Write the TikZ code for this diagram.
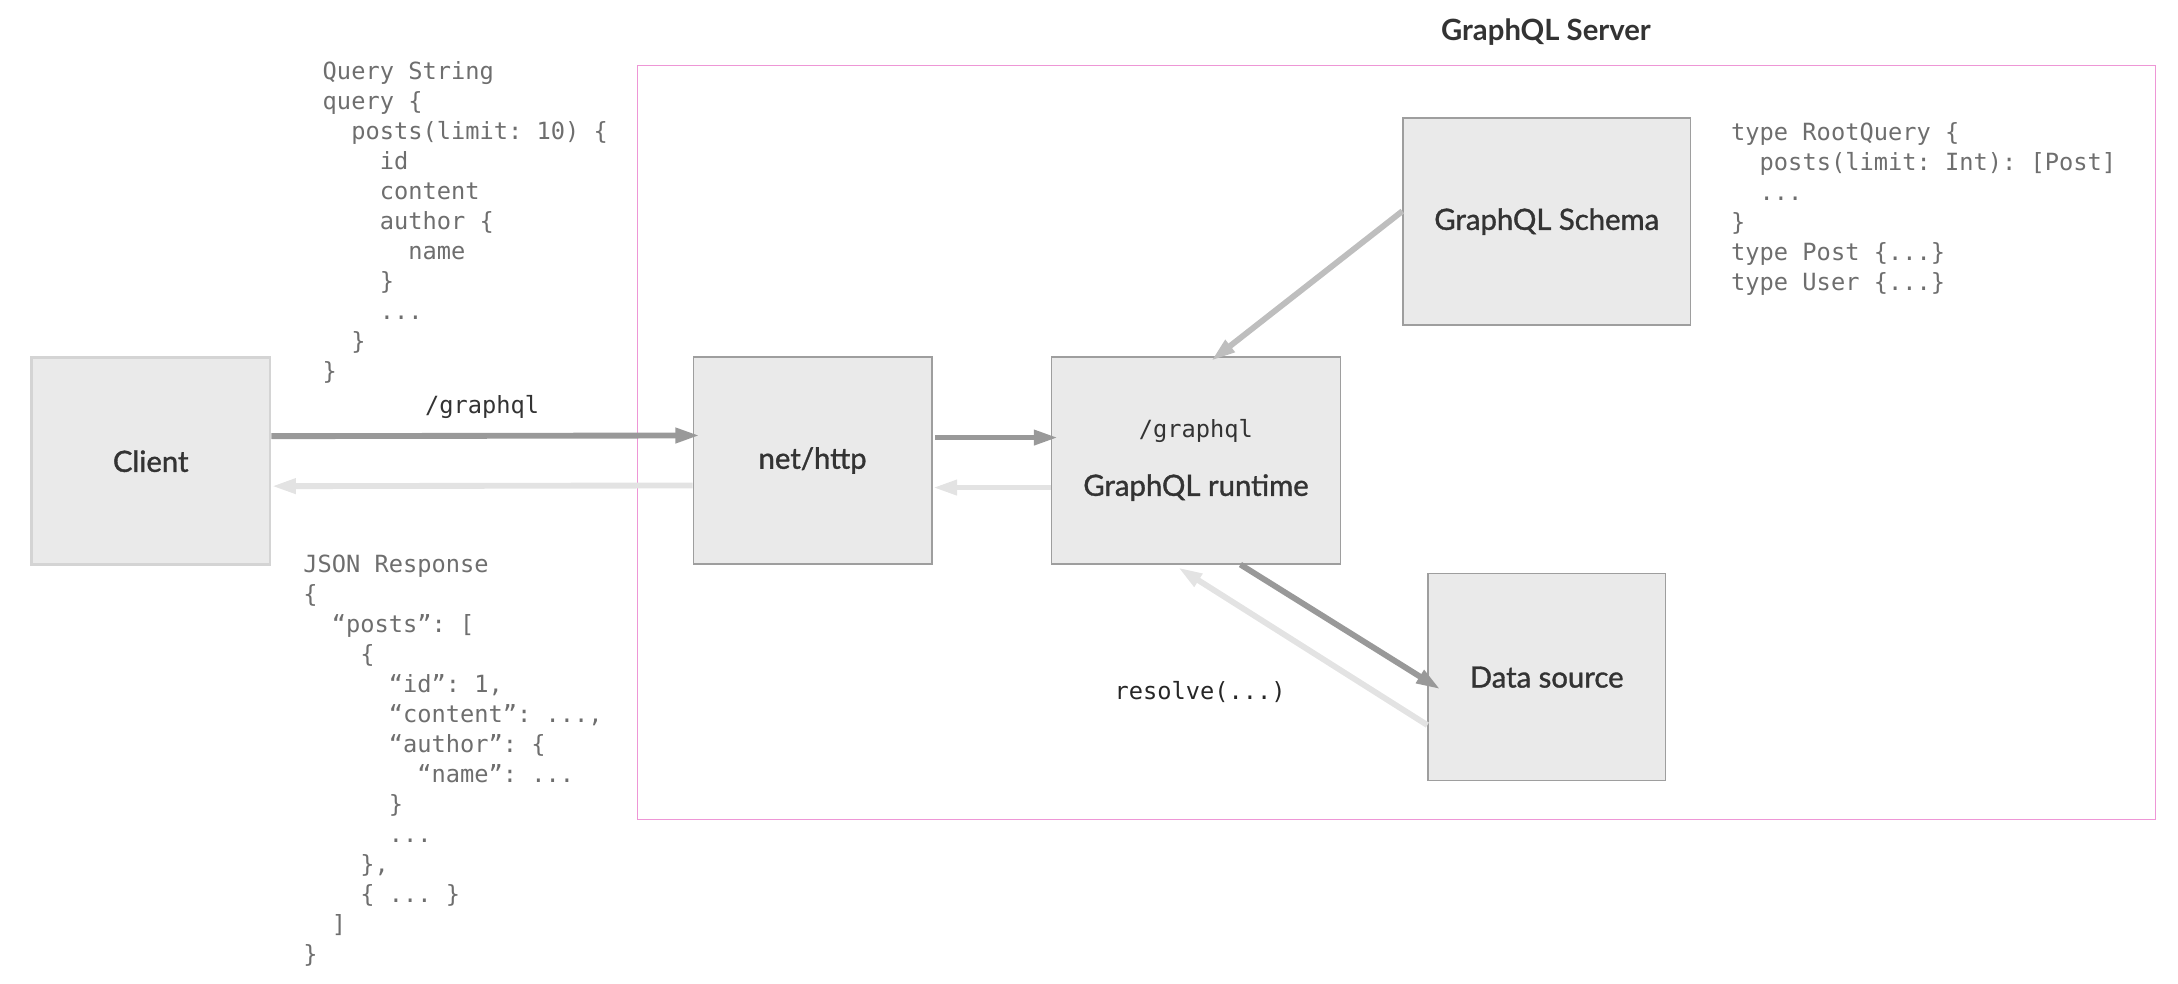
\documentclass[tikz,border=0pt]{standalone}
\usepackage{fontspec}
\setmainfont{Lato}
\setmonofont{DejaVu Sans Mono}
\newfontfamily\boxfont[FakeBold=1.2]{Lato}
\usetikzlibrary{arrows.meta,positioning}

\definecolor{boxfill}{RGB}{234,234,234}
\definecolor{boxline}{RGB}{158,158,158}
\definecolor{clientline}{RGB}{212,212,212}
\definecolor{reqarrow}{RGB}{153,153,153}
\definecolor{resarrow}{RGB}{227,227,227}
\definecolor{schemaarrow}{RGB}{190,190,190}
\definecolor{serverframe}{RGB}{238,150,214}
\definecolor{labeltext}{RGB}{51,51,51}
\definecolor{codetext}{RGB}{110,110,110}
\newcommand\ind{\hphantom{xx}}

\begin{document}
\begin{tikzpicture}[
  x=0.02cm, y=-0.02cm,
  >={Triangle[length=10pt,width=5.8pt]},
  every node/.style={font=\boxfont\fontsize{12}{14}\selectfont, text=labeltext},
  box/.style={draw=boxline, line width=0.5pt, fill=boxfill,
              minimum width=3.44cm, minimum height=2.98cm, inner sep=0pt},
  codeblock/.style={font=\ttfamily\fontsize{9.7}{12.3}\selectfont,
                    text=codetext, align=left, anchor=north west, inner sep=0pt},
  pathlbl/.style={font=\ttfamily\fontsize{9.7}{12.3}\selectfont},
  req/.style={->, line width=2.4pt, draw=reqarrow, shorten >=-3pt},
  res/.style={->, line width=2.4pt, draw=resarrow},
]
  \useasboundingbox (0,0) rectangle (1568,708);

  % GraphQL server frame
  \node[draw=serverframe, line width=0.6pt, minimum width=21.86cm,
        minimum height=10.86cm, inner sep=0pt] (server) at (1005.5,318.5) {};
  \node[font=\fontsize{12}{14}\selectfont\bfseries] (srvtitle) at (1113,23)
    {GraphQL Server};

  % Boxes
  \node[box, draw=clientline, line width=1.1pt] (client) at (108.5,332) {Client};
  \node[box] (http) at (585,331.5) {net/http};
  \node[box, minimum width=4.16cm] (runtime) at (861,331.5) {};
  \node[pathlbl] (rtpath) at ([yshift=0.43cm]runtime.center) {/graphql};
  \node (rtname) at ([yshift=-0.39cm]runtime.center) {GraphQL runtime};
  \node[box, minimum width=4.14cm] (schema) at (1113.5,159.5) {GraphQL Schema};
  \node[box, minimum width=3.42cm] (datasrc) at (1113.5,487.5) {Data source};

  % Request / response
  \draw[req] ([yshift=0.36cm]client.east) -- node[pathlbl, above=2.7pt] (reqpath)
    {/graphql} ([yshift=0.36cm]http.west);
  \draw[res] ([yshift=-0.36cm]http.west) -- ([yshift=-0.36cm]client.east);
  \draw[req] ([yshift=0.33cm, xshift=0.04cm]http.east) -- ([yshift=0.33cm]runtime.west);
  \draw[res] ([yshift=-0.39cm]runtime.west) -- ([yshift=-0.39cm]http.east);

  % Schema and resolvers
  \draw[req, draw=schemaarrow] ([yshift=0.15cm]schema.west) -- ([xshift=0.3cm]runtime.north);
  \draw[req] ([xshift=0.64cm]runtime.south) -- ([xshift=0.1cm, yshift=-0.12cm]datasrc.west);
  \draw[res] ([yshift=-0.69cm]datasrc.west) -- ([xshift=-0.26cm, yshift=-0.04cm]runtime.south);
  \node[pathlbl, text=black!85] (resolvelbl) at (864,498) {resolve(...)};

  % Code samples
  \node[codeblock] (query) at (232,44)
    {Query String\\
     query \{\\
     \ind posts(limit: 10) \{\\
     \ind\ind id\\
     \ind\ind content\\
     \ind\ind author \{\\
     \ind\ind\ind name\\
     \ind\ind \}\\
     \ind\ind ...\\
     \ind \}\\
     \}};
  \node[codeblock] (response) at (218,399)
    {JSON Response\\
     \{\\
     \ind “posts”: [\\
     \ind\ind \{\\
     \ind\ind\ind “id”: 1,\\
     \ind\ind\ind “content”: ...,\\
     \ind\ind\ind “author”: \{\\
     \ind\ind\ind\ind “name”: ...\\
     \ind\ind\ind \}\\
     \ind\ind\ind ...\\
     \ind\ind \},\\
     \ind\ind \{ ... \}\\
     \ind ]\\
     \}};
  \node[codeblock] (typedefs) at (1246,88)
    {type RootQuery \{\\
     \ind posts(limit: Int): [Post]\\
     \ind ...\\
     \}\\
     type Post \{...\}\\
     type User \{...\}};
\end{tikzpicture}
\end{document}
